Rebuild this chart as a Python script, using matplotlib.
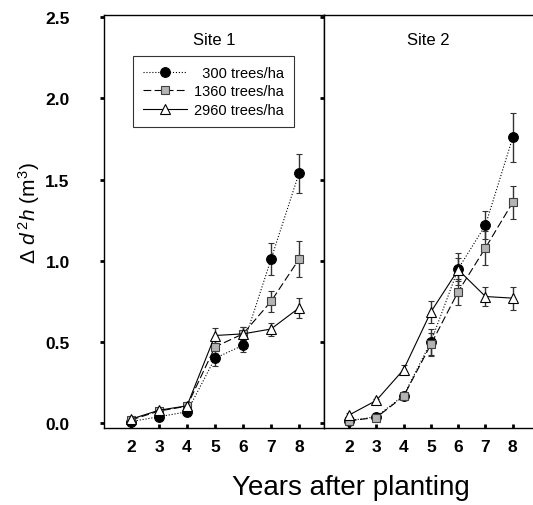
import numpy as np
import matplotlib
matplotlib.use("Agg")
import matplotlib.pyplot as plt
from matplotlib.lines import Line2D

plt.rcParams['font.family'] = ['Liberation Sans', 'DejaVu Sans']
plt.rcParams['mathtext.fontset'] = 'custom'
plt.rcParams['mathtext.rm'] = 'Liberation Sans'
plt.rcParams['mathtext.it'] = 'Liberation Sans:italic'

years = [2, 3, 4, 5, 6, 7, 8]
labels = ['  300 trees/ha', '1360 trees/ha', '2960 trees/ha']

# Site 1
s1_300 = [0.01, 0.04, 0.07, 0.40, 0.48, 1.01, 1.54]
s1_300_err = [0.01, 0.01, 0.01, 0.05, 0.04, 0.10, 0.12]
s1_1360 = [0.02, 0.075, 0.105, 0.47, 0.55, 0.75, 1.01]
s1_1360_err = [0.01, 0.01, 0.01, 0.04, 0.04, 0.065, 0.11]
s1_2960 = [0.025, 0.08, 0.107, 0.54, 0.55, 0.58, 0.71]
s1_2960_err = [0.01, 0.01, 0.01, 0.045, 0.04, 0.04, 0.06]

# Site 2
s2_300 = [0.015, 0.04, 0.17, 0.50, 0.95, 1.22, 1.76]
s2_300_err = [0.01, 0.01, 0.02, 0.08, 0.10, 0.085, 0.15]
s2_1360 = [0.015, 0.035, 0.165, 0.485, 0.81, 1.08, 1.36]
s2_1360_err = [0.01, 0.01, 0.02, 0.07, 0.08, 0.105, 0.10]
s2_2960 = [0.05, 0.14, 0.33, 0.685, 0.945, 0.78, 0.77]
s2_2960_err = [0.01, 0.01, 0.03, 0.07, 0.07, 0.06, 0.07]

fig = plt.figure(figsize=(5.33, 5.06), dpi=100)
ax1 = fig.add_axes([0.196, 0.152, 0.412, 0.816])
ax2 = fig.add_axes([0.608, 0.152, 0.392, 0.816])

styles = [
    dict(ls=':', marker='o', ms=7, mfc='black', mec='black'),
    dict(ls=(0, (7, 3)), marker='s', ms=5.5, mfc='#b4b4b4', mec='#404040'),
    dict(ls='-', marker='^', ms=6.5, mfc='white', mec='black'),
]

def draw(ax, series, errs, title):
    for vals, err, st in zip(series, errs, styles):
        ax.errorbar(years, vals, yerr=err, color='black', lw=0.8,
                    elinewidth=1.0, ecolor='#333333', capsize=2.5,
                    capthick=1.0, mew=0.8, **st)
    ax.set_ylim(-0.03, 2.512)
    ax.set_yticks([0, 0.5, 1.0, 1.5, 2.0, 2.5])
    ax.set_xticks(years)
    ax.tick_params(axis='x', direction='in', length=3, width=2,
                   labelsize=12.5, pad=8)
    ax.text(0.5, 0.94, title, transform=ax.transAxes, ha='center',
            va='center', fontsize=12)
    for lab in ax.get_xticklabels():
        lab.set_fontweight('bold')

draw(ax1, [s1_300, s1_1360, s1_2960],
     [s1_300_err, s1_1360_err, s1_2960_err], 'Site 1')
draw(ax2, [s2_300, s2_1360, s2_2960],
     [s2_300_err, s2_1360_err, s2_2960_err], 'Site 2')

ax1.set_xlim(1.054, 8.893)
ax2.set_xlim(1.088, 8.74)

ax1.tick_params(axis='y', direction='out', length=3, width=2,
                labelsize=12.5, pad=22)
ax1.set_yticklabels(['0.0', '0.5', '1.0', '1.5', '2.0', '2.5'],
                    fontweight='bold')
ax2.tick_params(axis='y', direction='out', length=3, width=2,
                labelleft=False)
ax2.spines['right'].set_visible(False)

for ax in (ax1, ax2):
    for sp in ax.spines.values():
        sp.set_linewidth(1.0)

handles = [Line2D([], [], color='black', lw=0.8, mew=0.8, **st) for st in styles]
leg = ax1.legend(handles, labels,
                 loc='upper center', bbox_to_anchor=(0.497, 0.902),
                 fontsize=10.5, frameon=True, fancybox=False, edgecolor='black',
                 handlelength=3.0, handletextpad=0.5, labelspacing=0.3,
                 borderpad=0.7, borderaxespad=0)
leg.get_frame().set_linewidth(0.8)

fig.text(0.055, 0.579, r'$\Delta\ d^{\,2}h\ (\mathrm{m}^{3})$', rotation=90,
         ha='center', va='center', fontsize=15)
fig.text(0.659, 0.035, 'Years after planting', ha='center', va='center',
         fontsize=20)

fig.savefig('out.png', dpi=100)
